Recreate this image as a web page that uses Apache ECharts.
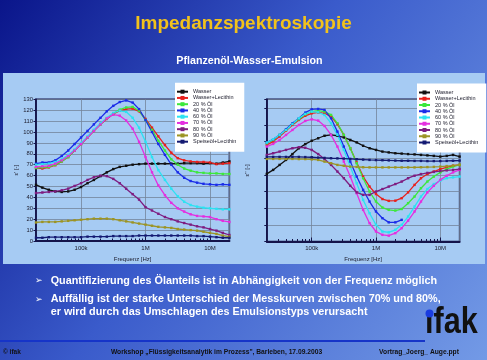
<!DOCTYPE html>
<html><head><meta charset="utf-8">
<script src="https://cdn.jsdelivr.net/npm/echarts@6.0.0/dist/echarts.min.js"></script>
<style>html,body{margin:0;padding:0;background:#2a48b8;}#c{width:487px;height:360px;}</style>
</head><body><div id="c"></div>
<script>
// ---- data ----
const freq = [20000, 25100, 31600, 39800, 50100, 63100, 79400, 100000, 126000, 158000, 200000, 251000, 316000, 398000, 501000, 631000, 794000, 1000000, 1260000, 1580000, 2000000, 2510000, 3160000, 3980000, 5010000, 6310000, 7940000, 10000000, 12600000, 15800000, 20000000];
const seriesNames = ["Wasser", "Wasser+Lecithin", "20 % Öl", "40 % Öl", "60 % Öl", "70 % Öl", "80 % Öl", "90 % Öl", "Speiseöl+Lecithin"];
const xTickLabels = {5: "100k", 6: "1M", 7: "10M"};
const minorTickValues = [30000, 40000, 50000, 60000, 70000, 80000, 90000, 200000, 300000, 400000, 500000, 600000, 700000, 800000, 900000, 2000000, 3000000, 4000000, 5000000, 6000000, 7000000, 8000000, 9000000];

// Left chart: eps' [-]
const L_wasser   = [51.5, 49, 47, 45.5, 45, 45.5, 47, 49.5, 53, 56, 59.5, 63, 66, 68, 69, 70, 70.5, 71, 71, 71, 71, 71, 71, 71.5, 71.5, 71.5, 71, 71.5, 71, 72, 73];
const L_lecithin = [67, 66.5, 67.5, 69.5, 73, 77, 83, 89, 95, 101, 107, 112, 116.5, 119.5, 121, 121.5, 119, 112, 104, 96, 88, 81, 76, 74, 73, 72.5, 72.5, 72, 70.5, 71, 71.5];
const L_oel20    = [67, 67.5, 68, 70, 73, 77, 83, 89, 95, 101, 107, 112.5, 117, 120.5, 122.5, 123, 119.5, 111, 102, 92, 83, 75, 70, 66.5, 64.5, 63, 62.5, 62, 62, 61.5, 61.5];
const L_oel40    = [71, 72, 72, 74, 78, 83, 89, 95, 101, 107, 113, 119, 124, 127.5, 129, 127, 121, 111, 100, 89, 79, 70, 63, 58, 55, 53.5, 52.5, 52, 51.5, 52, 51.5];
const L_oel60    = [70, 70.5, 71, 72.5, 75, 79, 84, 90, 96, 102, 108, 113, 117.5, 119.5, 118.5, 113, 104, 91, 77, 65, 56, 48, 41, 36, 33, 31.5, 30.5, 30, 29.5, 29, 29];
const L_oel70    = [68, 68.5, 69, 71, 74, 78, 83, 89, 95, 101, 107, 112.5, 116, 115, 110.5, 103, 91, 77, 63, 51, 42, 35, 30, 27, 24.5, 23, 22.5, 22, 20, 18.5, 17.5];
const L_oel80    = [44, 44.5, 45, 45.5, 46.5, 48, 50.5, 53, 56, 58.5, 60, 59.5, 57, 53, 48, 43, 38, 31, 28, 25, 22, 20, 18, 16.5, 15, 13.5, 12.5, 11, 9.5, 7.5, 5.5];
const L_oel90    = [17, 17.5, 17.5, 17.5, 18, 18.5, 19, 19.5, 20, 20.5, 20.5, 20.5, 20, 19, 18, 17, 16, 15, 14, 13, 12.5, 12, 11, 10.5, 10, 9.5, 8.5, 7.5, 6.5, 5, 4];
const L_speise   = [3, 3, 3.5, 3.5, 3.5, 3.5, 3.5, 3.5, 4, 4, 4, 4, 4.5, 4.5, 4.5, 4.5, 5, 5, 5, 5, 5, 5, 5, 5, 5, 4.5, 4.5, 4, 3.5, 3, 3];

// Right chart: eps'' [-]
const R_wasser   = [40.6, 43, 46, 49, 52.5, 56, 58.5, 60.5, 62, 63.5, 64, 63.5, 62.5, 61, 59.5, 57.5, 56, 55, 54, 53.5, 53, 52.8, 52.5, 52.3, 52, 51.7, 51.4, 51, 51.4, 52, 51];
const R_lecithin = [58, 60, 63, 66.5, 70, 73, 75.5, 77, 77.5, 77, 75, 70.5, 64, 56, 47.5, 39, 33, 28.5, 25.5, 24.4, 24.5, 26, 29.5, 34, 38, 40.5, 42, 43.5, 44.5, 45.5, 46];
const R_oel20    = [59, 61, 64, 67, 70.6, 73.4, 76.4, 78, 78.6, 78, 76, 71, 64, 56, 47, 38, 30, 24, 20.4, 19, 18.6, 19.5, 23, 27, 32, 36, 39, 41.5, 43.5, 45, 46];
const R_oel40    = [59.4, 61.4, 64, 67.4, 71, 74, 77.4, 79.4, 79.6, 79, 74, 66, 57, 48, 39, 31, 24, 18, 14, 11.5, 11.5, 13, null, null, null, null, null, null, null, null, null];
const R_oel60    = [59.4, 61.4, 64, 67, 70.6, 74, 76.6, 78, 77.6, 76, 71, 64, 55, 45, 35, 25, 17, 10, 6, 5.5, 7, 10, 15, 21, 27, 31.5, 34.5, 36.5, 38, 38.5, 39];
const R_oel70    = [57, 58.6, 61, 64, 67, 70, 72.4, 73.4, 72.6, 69.4, 64, 57, 48, 39, 29, 19, 11, 6, 4, 3.5, 5, 8, 12.5, 18, 24, 29.5, 33.5, 37, 39.5, 41.5, 43];
const R_oel80    = [52, 53, 54, 55, 56, 56.6, 56.3, 55, 52.5, 49.5, 46, 42, 38, 33.5, 29.5, 28, 28, 30, 31.5, 33, 34.5, 36, 38, 39.5, 40.5, 41.2, 41.8, 42.3, 42.7, 43, 43.5];
const R_oel90    = [49.6, 49.6, 49.6, 49.6, 49.6, 49.5, 49.5, 49.3, 49, 48, 47, 46, 45.5, 45, 44.8, 44.6, 44.5, 44.5, 44.5, 44.5, 44.5, 44.5, 44.5, 44.5, 44.6, 44.7, 44.8, 45, 45.3, 45.6, 46];
const R_speise   = [50.8, 50.8, 50.8, 50.8, 50.8, 50.8, 50.7, 50.6, 50.4, 50.2, 50, 49.9, 49.8, 49.6, 49.4, 49.2, 49, 48.9, 48.8, 48.7, 48.6, 48.5, 48.5, 48.4, 48.4, 48.3, 48.3, 48.3, 48.4, 48.5, 48.6];

const leftData  = [L_wasser, L_lecithin, L_oel20, L_oel40, L_oel60, L_oel70, L_oel80, L_oel90, L_speise];
const rightData = [R_wasser, R_lecithin, R_oel20, R_oel40, R_oel60, R_oel70, R_oel80, R_oel90, R_speise];

// ---- styles ----
const colors = ['#111111', '#e8201c', '#3ce83c', '#1a2ce8', '#2ce2f2', '#e42ee0', '#7e1c80', '#9c9424', '#141a72'];
const FONT = "'Liberation Sans', Arial, sans-serif";
const AX = '#14144a';
const GRIDC = '#74849a';
const TXT = '#1a1a2a';

function mkSeries(vals, i, ax) {
  return {
    type: 'line', name: seriesNames[i], xAxisIndex: ax * 2, yAxisIndex: ax,
    data: freq.map((f, k) => [f, vals[k]]),
    symbol: 'rect', symbolSize: 2.4, showSymbol: true, connectNulls: false,
    lineStyle: {width: 1.3, color: colors[i]}, itemStyle: {color: colors[i]},
    animation: false, silent: true
  };
}
function xMain(g) {
  return {
    type: 'log', gridIndex: g, min: 20000, max: 20000000, logBase: 10, position: 'bottom',
    axisLine: {show: true, onZero: false, lineStyle: {color: AX, width: 1.8}},
    axisTick: {show: true, inside: true, length: 4, lineStyle: {color: AX, width: 1}},
    axisLabel: {fontSize: 6, color: TXT, fontFamily: FONT, margin: 4, showMinLabel: false, showMaxLabel: false,
      formatter: v => xTickLabels[Math.round(Math.log10(v))] || ''},
    splitLine: {show: true, lineStyle: {color: GRIDC, width: 0.8}},
    name: 'Frequenz [Hz]', nameLocation: 'middle', nameGap: 15,
    nameTextStyle: {fontSize: 6, color: TXT, fontFamily: FONT}
  };
}
function xMinor(g) {
  return {
    type: 'log', gridIndex: g, min: 20000, max: 20000000, logBase: 10, position: 'bottom', offset: 0,
    axisLine: {show: false}, axisLabel: {show: false}, splitLine: {show: false},
    axisTick: {show: true, inside: true, length: 2.5, customValues: minorTickValues, lineStyle: {color: AX, width: 1}}
  };
}
function yAx(g, max, showLabels, name, gap) {
  return {
    type: 'value', gridIndex: g, min: 0, max: max, interval: 10,
    axisLine: {show: true, onZero: false, lineStyle: {color: AX, width: 1.8}},
    axisTick: {show: true, length: 2.5, lineStyle: {color: AX, width: 1}},
    axisLabel: {show: showLabels, fontSize: 5.8, color: TXT, fontFamily: FONT, margin: 3, showMaxLabel: true},
    splitLine: {show: true, lineStyle: {color: GRIDC, width: 0.8}},
    name: name, nameLocation: 'middle', nameGap: gap, nameRotate: 90,
    nameTextStyle: {fontSize: 6, color: TXT, fontFamily: FONT}
  };
}
function mkLegend(left, top) {
  return {
    orient: 'vertical', left: left, top: top, data: seriesNames.slice(),
    backgroundColor: '#ffffff', padding: [6, 8, 7, 1],
    itemWidth: 11, itemHeight: 5, itemGap: 0.25,
    textStyle: {fontSize: 5.5, lineHeight: 6, color: TXT, fontFamily: FONT},
    selectedMode: false, z: 10
  };
}

const W = 487, H = 360;
const BFONT = 10.8;
const option = {
  animation: false,
  textStyle: {fontFamily: FONT},
  grid: [
    {left: 36, top: 99.3, right: W - 229.4, bottom: H - 241, show: true, borderColor: AX, borderWidth: 1.5, backgroundColor: 'transparent', containLabel: false},
    {left: 266.8, top: 99.3, right: W - 459.6, bottom: H - 241.5, show: true, borderColor: AX, borderWidth: 1.5, backgroundColor: 'transparent', containLabel: false}
  ],
  xAxis: [xMain(0), xMinor(0), xMain(1), xMinor(1)],
  yAxis: [yAx(0, 130, true, "ε' [-]", 14), yAx(1, 85.4, false, "ε'' [-]", 16)],
  legend: [mkLegend(175, 82.7), mkLegend(417, 83.5)],
  series: leftData.map((d, i) => mkSeries(d, i, 0)).concat(rightData.map((d, i) => mkSeries(d, i, 1))),
  graphic: [
    {type: 'rect', z: -10, silent: true, shape: {x: 0, y: 0, width: W, height: H},
      style: {fill: new echarts.graphic.LinearGradient(0, 0, 1, 1, [
        {offset: 0, color: '#0a158a'}, {offset: 0.45, color: '#3a5bcb'}, {offset: 1, color: '#739ae6'}])}},
    {type: 'rect', z: -9, silent: true, shape: {x: 3, y: 73, width: 482, height: 191}, style: {fill: '#a6cbf3'}},
    {type: 'text', z: 10, x: 243.5, y: 24, style: {text: 'Impedanzspektroskopie', fill: '#f2c21b', fontSize: 19, fontWeight: 'bold', fontFamily: FONT, align: 'center', verticalAlign: 'middle'}},
    {type: 'text', z: 10, x: 249.5, y: 61, style: {text: 'Pflanzenöl-Wasser-Emulsion', fill: '#ffffff', fontSize: 10.7, fontWeight: 'bold', fontFamily: FONT, align: 'center', verticalAlign: 'middle'}},
    {type: 'text', z: 10, x: 35, y: 281, style: {text: '➢', fill: '#ffffff', fontSize: 9, fontFamily: "'DejaVu Sans'", align: 'left', verticalAlign: 'middle'}},
    {type: 'text', z: 10, x: 50.7, y: 281, style: {text: 'Quantifizierung des Ölanteils ist in Abhängigkeit von der Frequenz möglich', fill: '#ffffff', fontSize: BFONT, fontWeight: 'bold', fontFamily: FONT, align: 'left', verticalAlign: 'middle'}},
    {type: 'text', z: 10, x: 35, y: 299.5, style: {text: '➢', fill: '#ffffff', fontSize: 9, fontFamily: "'DejaVu Sans'", align: 'left', verticalAlign: 'middle'}},
    {type: 'text', z: 10, x: 50.7, y: 299.5, style: {text: 'Auffällig ist der starke Unterschied der Messkurven zwischen 70% und 80%,', fill: '#ffffff', fontSize: BFONT, fontWeight: 'bold', fontFamily: FONT, align: 'left', verticalAlign: 'middle'}},
    {type: 'text', z: 10, x: 50.7, y: 312.3, style: {text: 'er wird durch das Umschlagen des Emulsionstyps verursacht', fill: '#ffffff', fontSize: BFONT, fontWeight: 'bold', fontFamily: FONT, align: 'left', verticalAlign: 'middle'}},
    {type: 'line', z: 10, silent: true, shape: {x1: 0, y1: 341, x2: 425, y2: 341}, style: {stroke: '#1634c8', lineWidth: 2}},
    {type: 'text', z: 10, x: 3, y: 352, style: {text: '© ifak', fill: '#111111', fontSize: 6.5, fontWeight: 'bold', fontFamily: FONT, align: 'left', verticalAlign: 'middle'}},
    {type: 'text', z: 10, x: 216.5, y: 352, style: {text: 'Workshop „Flüssigkeitsanalytik im Prozess", Barleben, 17.09.2003', fill: '#111111', fontSize: 6.7, fontWeight: 'bold', fontFamily: FONT, align: 'center', verticalAlign: 'middle'}},
    {type: 'text', z: 10, x: 419, y: 352, style: {text: 'Vortrag_Joerg_ Auge.ppt', fill: '#111111', fontSize: 6.7, fontWeight: 'bold', fontFamily: FONT, align: 'center', verticalAlign: 'middle'}},
    {type: 'text', z: 10, x: 425, y: 323.5, scaleX: 0.85, style: {text: 'ıfak', fill: '#111111', fontSize: 36, fontWeight: 'bold', fontFamily: FONT, align: 'left', verticalAlign: 'middle'}},
    {type: 'circle', z: 11, shape: {cx: 429.5, cy: 313.5, r: 4}, style: {fill: '#1a3ce0'}}
  ]
};
const chart = echarts.init(document.getElementById('c'), null, {renderer: 'canvas', width: W, height: H});
chart.setOption(option);
</script>
</body></html>
